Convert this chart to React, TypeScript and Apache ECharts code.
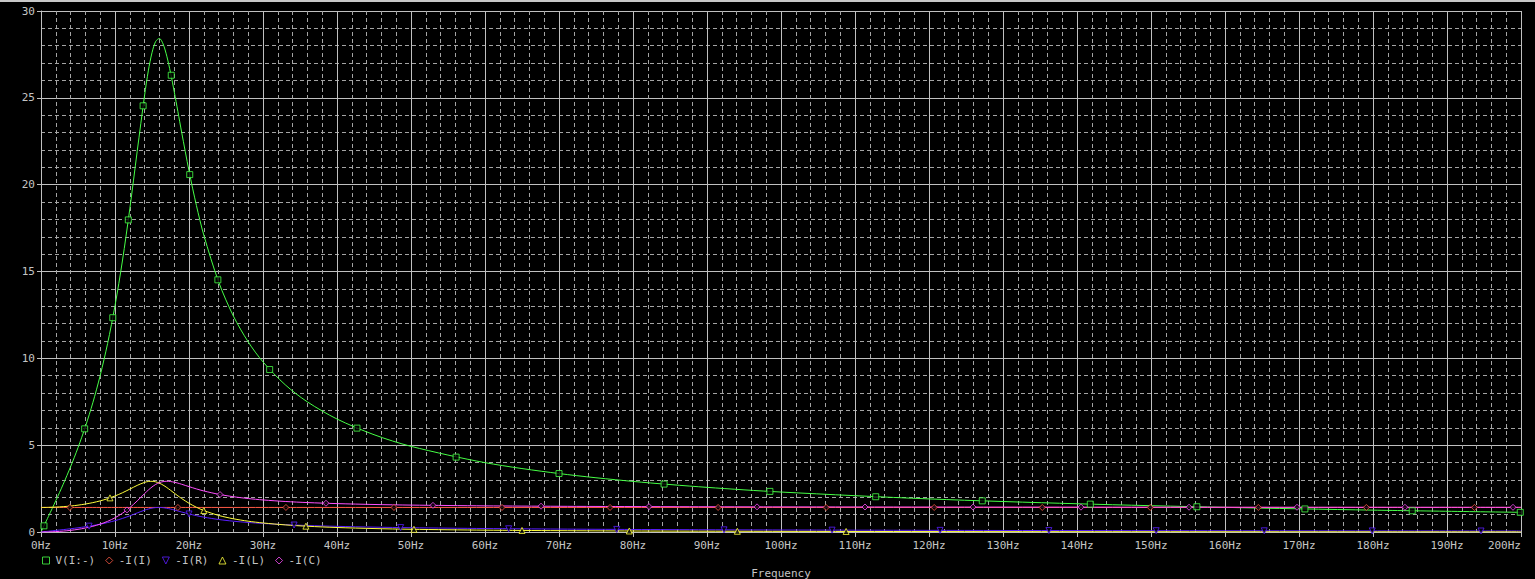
import React, { useEffect, useRef } from "react";
import * as echarts from "echarts";

// Sweep frequencies (Hz)
const freqHz = [0, 1, 2, 3, 4, 5, 6, 7, 8, 9, 10, 11, 12, 13, 14, 14.5, 15, 15.5, 16, 16.5, 17, 17.5, 18, 18.5, 19, 20, 21, 22, 24, 26, 28, 30, 33, 36, 40, 45, 50, 60, 70, 80, 90, 100, 120, 140, 160, 180, 200];
// V(I:-)
const vNode = [0, 0.892, 1.802, 2.75, 3.76, 4.856, 6.069, 7.439, 9.014, 10.854, 13.03, 15.604, 18.606, 21.922, 25.149, 26.55, 27.6, 28.25, 28.42, 28.1, 27.4, 26.45, 25.36, 24.205, 23.034, 20.794, 18.805, 17.096, 14.404, 12.433, 10.948, 9.794, 8.478, 7.492, 6.505, 5.603, 4.932, 3.994, 3.366, 2.913, 2.571, 2.301, 1.905, 1.626, 1.419, 1.259, 1.132];
// -I(I)
const iSource = [1.414, 1.414, 1.414, 1.414, 1.414, 1.414, 1.414, 1.414, 1.414, 1.414, 1.414, 1.414, 1.414, 1.414, 1.414, 1.414, 1.414, 1.414, 1.414, 1.414, 1.414, 1.414, 1.414, 1.414, 1.414, 1.414, 1.414, 1.414, 1.414, 1.414, 1.414, 1.414, 1.414, 1.414, 1.414, 1.414, 1.414, 1.414, 1.414, 1.414, 1.414, 1.414, 1.414, 1.414, 1.414, 1.414, 1.414];
// -I(R)
const iR = [0, 0.0446, 0.0901, 0.1375, 0.188, 0.2428, 0.3034, 0.372, 0.4507, 0.5427, 0.6515, 0.7802, 0.9303, 1.0961, 1.2575, 1.3248, 1.3759, 1.4062, 1.4137, 1.3995, 1.3672, 1.3217, 1.268, 1.2103, 1.1517, 1.0397, 0.9403, 0.8548, 0.7202, 0.6216, 0.5474, 0.4897, 0.4239, 0.3746, 0.3253, 0.2801, 0.2466, 0.1997, 0.1683, 0.1457, 0.1285, 0.1151, 0.0952, 0.0813, 0.0709, 0.0629, 0.0566];
// -I(L)
const iL = [1.414, 1.419, 1.434, 1.459, 1.496, 1.546, 1.61, 1.691, 1.793, 1.919, 2.074, 2.258, 2.468, 2.684, 2.859, 2.908, 2.92, 2.888, 2.8125, 2.7, 2.56, 2.404, 2.242, 2.0824, 1.93, 1.655, 1.425, 1.237, 0.955, 0.761, 0.622, 0.52, 0.409, 0.331, 0.259, 0.198, 0.157, 0.106, 0.0765, 0.058, 0.0455, 0.0366, 0.0253, 0.0185, 0.0141, 0.0111, 0.009];
// -I(C)
const iC = [0, 0.0056, 0.0226, 0.0518, 0.0945, 0.1525, 0.2288, 0.3272, 0.4531, 0.6138, 0.8187, 1.0785, 1.4029, 1.7906, 2.2122, 2.414, 2.5934, 2.7389, 2.8424, 2.9018, 2.9207, 2.9066, 2.8681, 2.8136, 2.7498, 2.6131, 2.4813, 2.3632, 2.1721, 2.0311, 1.9261, 1.8461, 1.7578, 1.6947, 1.6349, 1.5841, 1.5493, 1.5058, 1.4805, 1.4644, 1.4536, 1.4459, 1.436, 1.4301, 1.4263, 1.4238, 1.4219];

// Trace marker positions
const vMarkFreq = [0.4, 5.9, 9.7, 11.8, 13.8, 17.6, 20.1, 23.9, 30.9, 42.7, 56.1, 70, 84.2, 98.5, 112.8, 127.2, 141.8, 156.2, 170.8, 185.3, 199.9];
const vMarkVal = [0.356, 5.941, 12.34, 17.97, 24.54, 26.3, 20.58, 14.52, 9.355, 5.982, 4.312, 3.366, 2.759, 2.338, 2.03, 1.794, 1.605, 1.454, 1.328, 1.222, 1.132];
const iSrcMarkFreq = [3.9, 18.5, 33.1, 47.7, 62.3, 76.9, 91.5, 106.1, 120.7, 135.3, 149.9, 164.5, 179.1, 193.7];
const iSrcMarkVal = [1.414, 1.414, 1.414, 1.414, 1.414, 1.414, 1.414, 1.414, 1.414, 1.414, 1.414, 1.414, 1.414, 1.414];
const iRMarkFreq = [6.5, 20, 34.2, 48.6, 63.2, 77.8, 92.3, 106.9, 121.5, 136.2, 150.7, 165.3, 179.9, 194.6];
const iRMarkVal = [0.337, 1.04, 0.403, 0.255, 0.188, 0.15, 0.125, 0.107, 0.094, 0.0836, 0.0754, 0.0686, 0.063, 0.0582];
const iLMarkFreq = [9.32, 22.0, 35.8, 50.4, 65.0, 79.5, 94.1, 108.8];
const iLMarkVal = [1.966, 1.237, 0.3357, 0.1543, 0.0894, 0.0587, 0.0415, 0.0308];
const iCMarkFreq = [11.62, 24.19, 38.51, 52.97, 67.57, 82.16, 96.76, 111.35, 125.95, 140.54, 155.14, 169.73, 184.32, 198.92];
const iCMarkVal = [1.272, 2.157, 1.655, 1.5336, 1.4855, 1.4618, 1.4482, 1.4397, 1.434, 1.43, 1.4265, 1.425, 1.4233, 1.422];

const traceNames = ["V(I:-)", "-I(I)", "-I(R)", "-I(L)", "-I(C)"];

const MONO = "'DejaVu Sans Mono', 'Liberation Mono', monospace";
const TXT = "#c4c4c4";
const GRID = "#c0c0c0";
const MINOR = "#a4a4a4";

const pairs = (xs: number[], ys: number[]) => xs.map((x, i) => [x, ys[i]]);

export default function App() {
  const ref = useRef<HTMLDivElement>(null);
  useEffect(() => {
    if (!ref.current) return;
    const chart = echarts.init(ref.current, undefined, { renderer: "svg" });
    const traces = [
      { name: traceNames[0], y: vNode, mf: vMarkFreq, mv: vMarkVal, color: "#46ff46", symbol: "rect" },
      { name: traceNames[1], y: iSource, mf: iSrcMarkFreq, mv: iSrcMarkVal, color: "#ff5a46", symbol: "diamond" },
      { name: traceNames[2], y: iR, mf: iRMarkFreq, mv: iRMarkVal, color: "#5a1eff", symbol: "path://M0,0 L10,0 L5,10 Z" },
      { name: traceNames[3], y: iL, mf: iLMarkFreq, mv: iLMarkVal, color: "#ffff3c", symbol: "triangle" },
      { name: traceNames[4], y: iC, mf: iCMarkFreq, mv: iCMarkVal, color: "#ff50ff", symbol: "diamond" },
    ];
    const series: any[] = [];
    traces.forEach((t, k) => {
      series.push({
        type: "line",
        name: t.name + " trace",
        data: pairs(freqHz, t.y),
        showSymbol: false,
        smooth: 0.3,
        lineStyle: { color: t.color, width: 1 },
        itemStyle: { color: t.color },
        z: 2 + k,
        silent: true,
      });
    });
    traces.forEach((t, k) => {
      series.push({
        type: "scatter",
        name: t.name,
        data: pairs(t.mf, t.mv),
        symbol: t.symbol,
        symbolSize: 6,
        itemStyle: { color: "#000", borderColor: t.color, borderWidth: 1 },
        z: 10 + k,
        silent: true,
      });
    });
    chart.setOption({
      animation: false,
      backgroundColor: "#000",
      grid: { left: 41, right: 14, top: 11, bottom: 47, containLabel: false, outerBoundsMode: "none" },
      graphic: [
        { type: "rect", left: 0, top: 0, shape: { x: 0, y: 0, width: 1535, height: 2 }, style: { fill: "#c8c8c8" } },
      ],
      legend: {
        data: traceNames,
        left: 42,
        top: 555,
        padding: 0,
        itemGap: 10,
        itemWidth: 7,
        itemHeight: 7,
        selectedMode: false,
        itemStyle: { borderWidth: 1 },
        textStyle: { color: TXT, fontFamily: MONO, fontSize: 11, padding: [0, 0, 0, 1] },
      },
      xAxis: {
        type: "value",
        min: 0,
        max: 200,
        interval: 10,
        name: "Frequency",
        nameLocation: "middle",
        nameGap: 36,
        nameTextStyle: { color: TXT, fontFamily: MONO, fontSize: 11 },
        axisLine: { show: true, lineStyle: { color: GRID, width: 1 } },
        axisTick: { show: true, length: 5, lineStyle: { color: GRID } },
        axisLabel: {
          color: TXT,
          fontFamily: MONO,
          fontSize: 11,
          margin: 8,
          alignMaxLabel: "right",
          formatter: (v: number) => `${v}Hz`,
        },
        splitLine: { show: true, lineStyle: { color: GRID, width: 1 } },
        minorTick: { show: false, splitNumber: 5 },
        minorSplitLine: { show: true, lineStyle: { color: MINOR, width: 1, type: [4, 3] } },
      },
      yAxis: {
        type: "value",
        min: 0,
        max: 30,
        interval: 5,
        axisLine: { show: true, lineStyle: { color: GRID, width: 1 } },
        axisTick: { show: true, length: 4, lineStyle: { color: GRID } },
        axisLabel: { color: TXT, fontFamily: MONO, fontSize: 11, margin: 6 },
        splitLine: { show: true, lineStyle: { color: GRID, width: 1 } },
        minorTick: { show: false, splitNumber: 5 },
        minorSplitLine: { show: true, lineStyle: { color: MINOR, width: 1, type: [4, 3] } },
      },
      series,
    });
    return () => chart.dispose();
  }, []);
  return (
    <div
      ref={ref}
      style={{ position: "fixed", left: 0, top: 0, width: 1535, height: 579, background: "#000" }}
    />
  );
}
